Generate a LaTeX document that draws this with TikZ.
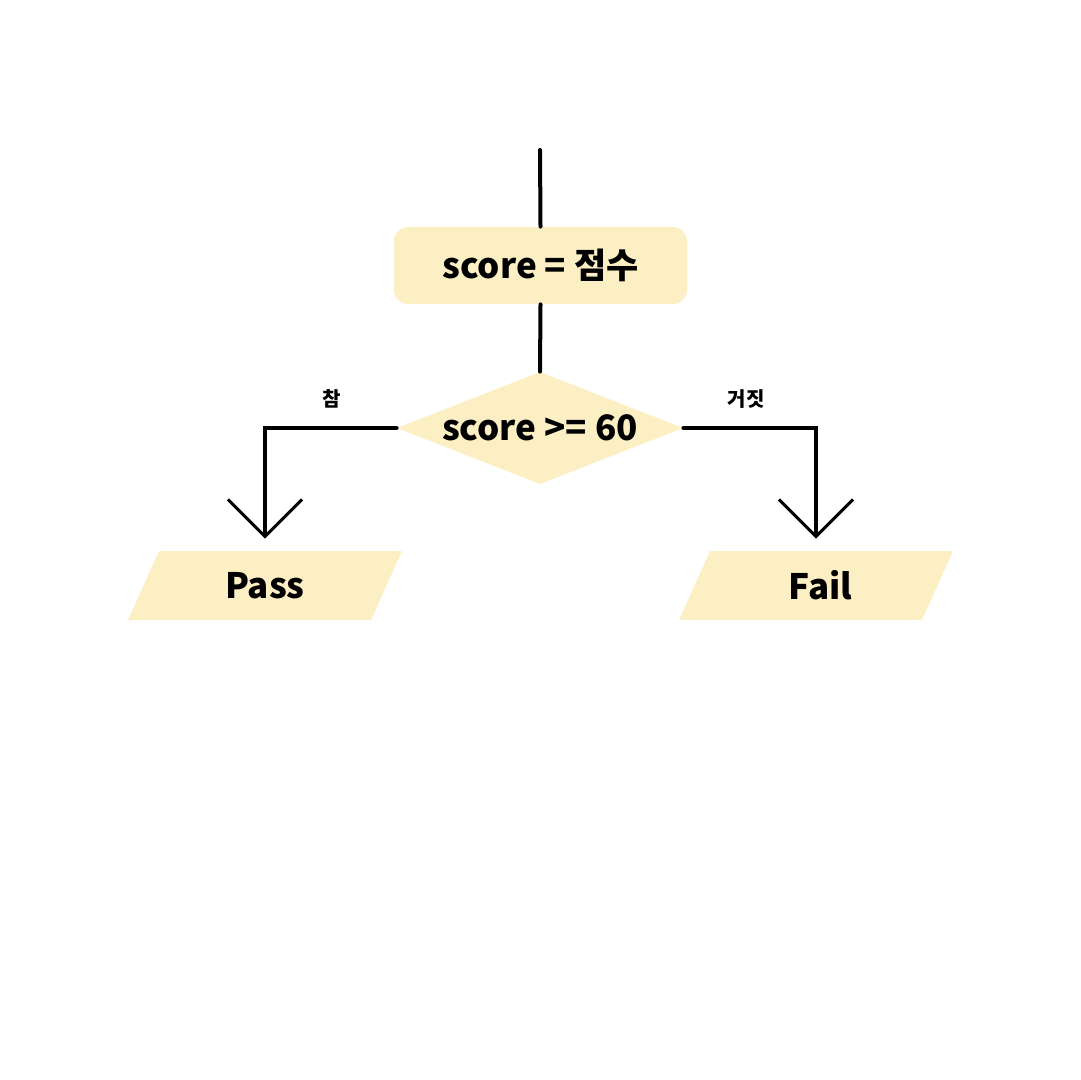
\documentclass[tikz,border=0pt]{standalone}
\usepackage{fontspec}
\setmainfont{Noto Sans CJK KR}
\usetikzlibrary{arrows.meta}
\definecolor{boxfill}{HTML}{FDEFC4}
\begin{document}
\begin{tikzpicture}[x=0.5pt,y=-0.5pt,
  conn/.style={line width=2pt, line cap=round},
  arr/.style={conn, -{Straight Barb[length=18.5pt,width=37pt,line width=1.5pt]}, shorten >=6pt},
  maintext/.style={font=\fontsize{17.5}{20}\selectfont\bfseries, text=black},
  labeltext/.style={font=\fontsize{10}{12}\selectfont\bfseries, text=black},
  procbox/.style={maintext, fill=boxfill, rounded corners=7pt, minimum width=146.5pt, minimum height=38.5pt, inner sep=0pt},
  decbox/.style={maintext, minimum width=143pt, minimum height=56pt, inner sep=0pt,
    path picture={\fill[boxfill] (path picture bounding box.north) -- (path picture bounding box.east) -- (path picture bounding box.south) -- (path picture bounding box.west) -- cycle;}},
  iobox/.style={maintext, minimum width=137pt, minimum height=34.5pt, inner sep=0pt,
    path picture={\fill[boxfill] ([xshift=15.5pt]path picture bounding box.north west) -- (path picture bounding box.north east) -- ([xshift=-15.5pt]path picture bounding box.south east) -- (path picture bounding box.south west) -- cycle;}}
]
\useasboundingbox (0,0) rectangle (1080,1080);
\coordinate (start) at (540,150);
\node[procbox] (init) at (540.5,265.5) {score = 점수};
\node[decbox] (cond) at (540,428) {score >= 60};
\node[iobox] (pass) at (265,585.5) {Pass};
\node[iobox] (fail) at (816,585.5) {\hspace*{4.5pt}Fail};
\node[labeltext] (ltrue) at (332,399) {참};
\node[labeltext] (lfalse) at (746,399) {거짓};
\draw[conn] (start) -- (init.north);
\draw[conn] (init.south) -- (cond.north);
\draw[arr] (cond.west) -| (pass.north);
\draw[arr] (cond.east) -| (fail.north);
\end{tikzpicture}
\end{document}
